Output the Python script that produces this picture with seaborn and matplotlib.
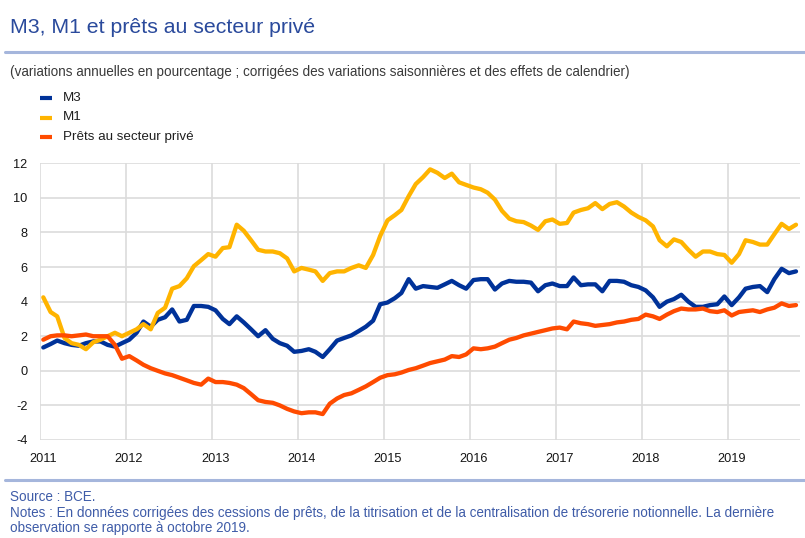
import matplotlib
matplotlib.use("Agg")
import matplotlib.pyplot as plt
import matplotlib.transforms as mtransforms
from matplotlib.lines import Line2D
import numpy as np
import pandas as pd
import seaborn as sns

# Annual growth rates (%), monthly, January 2011 - October 2019
m3 = [
    1.35, 1.55, 1.75, 1.6, 1.5, 1.45, 1.6, 1.7, 1.7, 1.5, 1.4, 1.6,      # 2011
    1.8, 2.2, 2.85, 2.55, 2.95, 3.1, 3.55, 2.85, 2.95, 3.75, 3.75, 3.7,  # 2012
    3.5, 3.0, 2.7, 3.15, 2.8, 2.4, 2.0, 2.35, 1.85, 1.6, 1.45, 1.1,      # 2013
    1.15, 1.25, 1.1, 0.8, 1.25, 1.75, 1.9, 2.05, 2.3, 2.55, 2.9, 3.85,   # 2014
    3.95, 4.2, 4.5, 5.3, 4.75, 4.9, 4.85, 4.8, 5.0, 5.2, 4.95, 4.75,     # 2015
    5.25, 5.3, 5.3, 4.7, 5.05, 5.2, 5.15, 5.15, 5.1, 4.6, 4.95, 5.05,    # 2016
    4.9, 4.9, 5.4, 4.95, 5.0, 5.0, 4.6, 5.2, 5.2, 5.15, 4.95, 4.85,      # 2017
    4.65, 4.25, 3.7, 4.0, 4.15, 4.4, 4.0, 3.7, 3.7, 3.8, 3.85, 4.3,      # 2018
    3.8, 4.25, 4.75, 4.85, 4.9, 4.55, 5.3, 5.9, 5.65, 5.75,              # 2019
]
m1 = [
    4.25, 3.4, 3.15, 1.9, 1.6, 1.5, 1.25, 1.65, 1.8, 2.0, 2.2, 2.0,
    2.2, 2.4, 2.7, 2.4, 3.35, 3.65, 4.75, 4.9, 5.35, 6.05, 6.4, 6.75,
    6.6, 7.1, 7.15, 8.45, 8.1, 7.55, 7.0, 6.9, 6.9, 6.8, 6.5, 5.75,
    5.95, 5.85, 5.75, 5.2, 5.65, 5.75, 5.75, 5.95, 6.1, 5.95, 6.7, 7.8,
    8.7, 9.0, 9.3, 10.1, 10.8, 11.2, 11.65, 11.45, 11.15, 11.4, 10.9, 10.75,
    10.6, 10.5, 10.3, 9.9, 9.25, 8.8, 8.65, 8.6, 8.4, 8.15, 8.65, 8.75,
    8.5, 8.55, 9.15, 9.3, 9.4, 9.7, 9.35, 9.65, 9.75, 9.5, 9.15, 8.9,
    8.7, 8.35, 7.55, 7.2, 7.6, 7.45, 7.0, 6.6, 6.9, 6.9, 6.75, 6.7,
    6.25, 6.75, 7.55, 7.45, 7.3, 7.3, 7.9, 8.5, 8.2, 8.45,
]
prets = [
    1.8, 2.0, 2.05, 2.05, 2.0, 2.05, 2.1, 2.0, 2.0, 2.0, 1.5, 0.7,
    0.85, 0.6, 0.35, 0.15, 0.0, -0.15, -0.25, -0.4, -0.55, -0.7, -0.8, -0.45,
    -0.65, -0.65, -0.7, -0.8, -1.0, -1.35, -1.7, -1.8, -1.85, -2.0, -2.2, -2.35,
    -2.45, -2.4, -2.4, -2.5, -1.9, -1.6, -1.4, -1.3, -1.1, -0.9, -0.65, -0.4,
    -0.25, -0.2, -0.1, 0.05, 0.15, 0.3, 0.45, 0.55, 0.65, 0.85, 0.8, 0.95,
    1.3, 1.25, 1.3, 1.4, 1.6, 1.8, 1.9, 2.05, 2.15, 2.25, 2.35, 2.45,
    2.5, 2.4, 2.85, 2.75, 2.7, 2.6, 2.65, 2.7, 2.8, 2.85, 2.95, 3.0,
    3.25, 3.15, 3.0, 3.25, 3.45, 3.6, 3.55, 3.55, 3.6, 3.45, 3.4, 3.5,
    3.2, 3.4, 3.45, 3.5, 3.4, 3.55, 3.65, 3.9, 3.75, 3.8,
]

series_names = ["M3", "M1", "Prêts au secteur privé"]
series_colors = ["#003299", "#FFB400", "#FF4B00"]
year_labels = [str(y) for y in range(2011, 2020)]
y_ticks = [-4, -2, 0, 2, 4, 6, 8, 10, 12]

title = "M3, M1 et prêts au secteur privé"
subtitle = ("(variations annuelles en pourcentage ; corrigées des variations "
            "saisonnières et des effets de calendrier)")
footer = [
    "Source : BCE.",
    "Notes : En données corrigées des cessions de prêts, de la titrisation et de la "
    "centralisation de trésorerie notionnelle. La dernière",
    "observation se rapporte à octobre 2019.",
]

# monthly observations, placed mid-month
dates = pd.date_range("2011-01-01", periods=len(m3), freq="MS") + pd.Timedelta(days=14)
wide = pd.DataFrame({"date": dates, series_names[0]: m3,
                     series_names[1]: m1, series_names[2]: prets})
long = wide.melt(id_vars="date", var_name="série", value_name="valeur")

sns.set_theme(style="white")
plt.rcParams["font.family"] = ["Liberation Sans", "DejaVu Sans"]
plt.rcParams["lines.solid_joinstyle"] = "round"

W, H = 805, 538
fig = plt.figure(figsize=(W / 100, H / 100), dpi=100)
fig.patch.set_facecolor("white")


def fx(px):
    return px / W


def fy(py):
    return 1 - py / H


ax = fig.add_axes([fx(40), fy(440), fx(800) - fx(40), fy(163.3) - fy(440)])
sns.lineplot(data=long, x="date", y="valeur", hue="série",
             hue_order=series_names, palette=series_colors,
             linewidth=3.1, legend=False, ax=ax, sort=False)

ax.set_xlim(pd.Timestamp("2011-01-01"), pd.Timestamp("2019-11-01"))
ax.set_ylim(-4, 12)
ax.set_yticks(y_ticks)
ax.set_yticklabels([str(v) for v in y_ticks])
ax.set_xticks([pd.Timestamp(f"{y}-01-01") for y in year_labels])
ax.set_xticklabels(year_labels)
ax.set_xlabel("")
ax.set_ylabel("")
for s in ax.spines.values():
    s.set_visible(False)
ax.grid(True, color="#DCDCDC", linewidth=1.2)
ax.set_axisbelow(True)
ax.tick_params(axis="both", length=0, labelsize=9.2, labelcolor="#151515")
ax.tick_params(axis="y", pad=9)
ax.tick_params(axis="x", pad=9)
offset = mtransforms.ScaledTranslation(3 / 100, 0, fig.dpi_scale_trans)
for lab in ax.get_xticklabels():
    lab.set_transform(lab.get_transform() + offset)

# title and separators
fig.text(fx(10), fy(28), title, fontsize=15.3, color="#2A4A9C",
         ha="left", va="center")
for yline in (51.5, 479.5):
    fig.add_artist(Line2D([fx(5), fx(805)], [fy(yline), fy(yline)],
                          color="#A5B6DC", linewidth=2.2,
                          transform=fig.transFigure))
fig.text(fx(10), fy(72), subtitle, fontsize=9.75, color="#3A3A3A",
         ha="left", va="center")

# legend
for i, (name, col) in enumerate(zip(series_names, series_colors)):
    yy = 98 + i * 19.5
    fig.add_artist(Line2D([fx(40), fx(52)], [fy(yy), fy(yy)], color=col,
                          linewidth=3.0, solid_capstyle="butt",
                          transform=fig.transFigure))
    fig.text(fx(63), fy(yy), name, fontsize=9.6, color="#1E1E1E",
             ha="left", va="center")

# footer
for i, line in enumerate(footer):
    fig.text(fx(10), fy(497 + i * 15.5), line, fontsize=9.75,
             color="#3F5CA8", ha="left", va="center")

fig.savefig("out.png", dpi=100, facecolor="white")
